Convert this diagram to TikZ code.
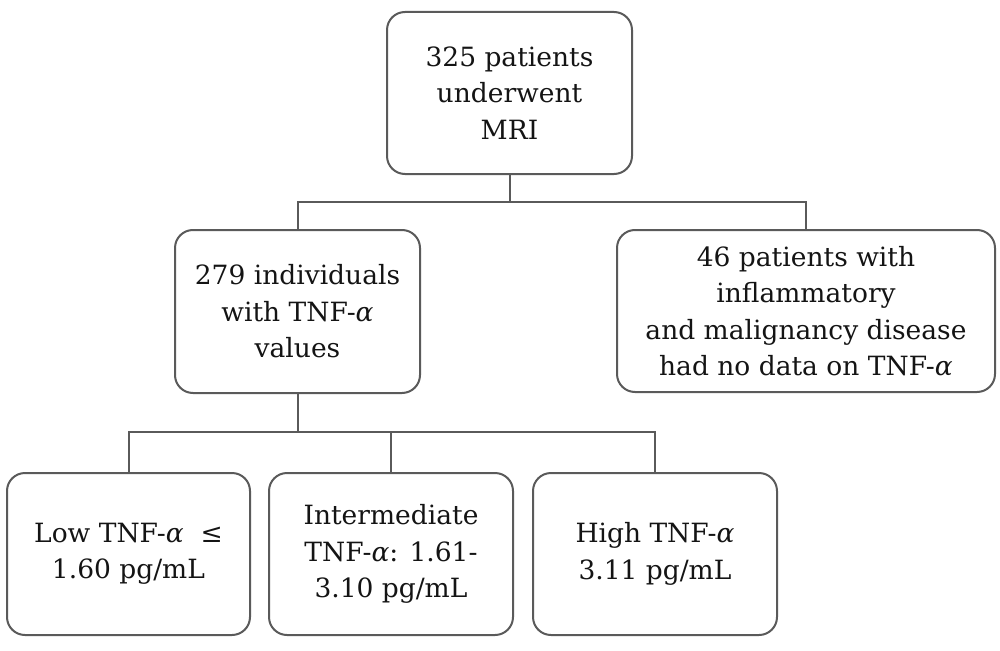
\documentclass[tikz,border=0pt]{standalone}
\usepackage{fontspec}
\setmainfont{DejaVu Serif}
\newcommand{\alf}{{\itshape α}}
\begin{document}
\begin{tikzpicture}[x=1pt,y=-1pt,
  box/.style={draw=linegray, line width=2pt, rounded corners=18pt, align=center,
    font=\fontsize{26.5}{36.5}\selectfont, text=black!92, inner sep=0pt},
  conn/.style={draw=linegray, line width=2pt}]
\definecolor{linegray}{HTML}{5A5A5A}
\useasboundingbox (0,0) rectangle (1000,650);
\node[box, minimum width=245pt, minimum height=162pt] (top) at (509.5,93) {325 patients\\underwent\\MRI};
\node[box, minimum width=245pt, minimum height=163pt] (n279) at (297.5,311.5) {279 individuals\\with TNF-\alf\\values};
\node[box, minimum width=378pt, minimum height=162pt] (n46) at (806,311) {46 patients with\\inflammatory\\and malignancy disease\\had no data on TNF-\alf};
\node[box, minimum width=243pt, minimum height=162pt] (low) at (128.5,554) {Low TNF-\alf\ \ ≤\\1.60 pg/mL};
\node[box, minimum width=244pt, minimum height=162pt] (mid) at (391,554) {Intermediate\\TNF-\alf: 1.61-\\3.10 pg/mL};
\node[box, minimum width=244pt, minimum height=162pt] (high) at (655,554) {High TNF-\alf\\3.11 pg/mL};
\coordinate (j1) at (509.5,202);
\coordinate (j2) at (297.5,432);
\draw[conn] (top.south) -- (j1);
\draw[conn] (n279.north) |- (j1);
\draw[conn] (n46.north) |- (j1);
\draw[conn] (n279.south) -- (j2);
\draw[conn] (low.north) |- (j2);
\draw[conn] (mid.north) |- (j2);
\draw[conn] (high.north) |- (j2);
\end{tikzpicture}
\end{document}
